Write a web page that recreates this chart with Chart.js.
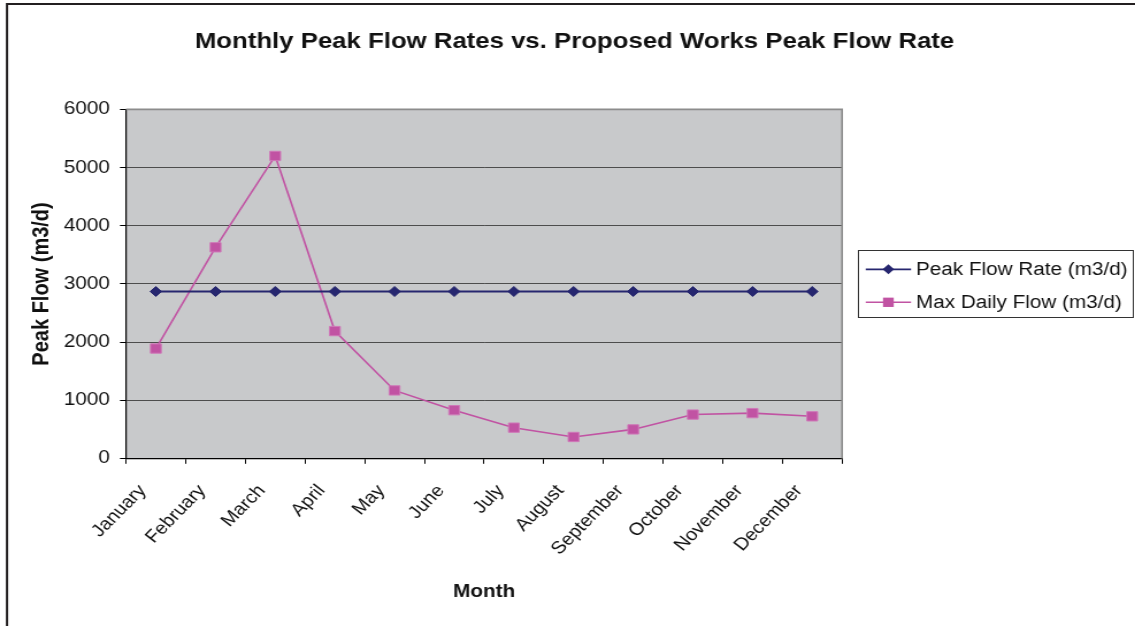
<!DOCTYPE html>
<html>
<head>
<meta charset="utf-8">
<title>Monthly Peak Flow Rates vs. Proposed Works Peak Flow Rate</title>
<script src="https://cdn.jsdelivr.net/npm/chart.js@4.4.1/dist/chart.umd.min.js"></script>
<style>
  html, body { margin: 0; padding: 0; background: #ffffff; overflow: hidden; }
  #wrap { position: relative; width: 1135px; height: 626px; overflow: hidden; background: #ffffff; }
  /* the chart is laid out on a 987px canvas and widened to the page width */
  #stage { position: absolute; left: 0; top: 0; width: 987px; height: 626px;
           transform: scaleX(1.15); transform-origin: 0 0; }
  canvas { display: block; }
</style>
</head>
<body>
<div id="wrap"><div id="stage"><canvas id="chart" width="987" height="626"></canvas></div></div>
<script>
// ---- data ----
const months = ['January', 'February', 'March', 'April', 'May', 'June',
                'July', 'August', 'September', 'October', 'November', 'December'];
const peakFlowRate = [2870, 2870, 2870, 2870, 2870, 2870, 2870, 2870, 2870, 2870, 2870, 2870];
const maxDailyFlow = [1890, 3630, 5200, 2190, 1170, 830, 530, 370, 500, 755, 780, 725];
const yMin = 0;
const yMax = 6000;
const yStep = 1000;

const chartTitle = 'Monthly Peak Flow Rates vs. Proposed Works Peak Flow Rate';
const xTitle = 'Month';
const yTitle = 'Peak Flow (m3/d)';

const FONT = "'Liberation Sans', Arial, Helvetica, sans-serif";
const NAVY = '#26266f';
const PINK = '#c153a3';

// Grey plot background plus the outer frame of the chart object
const backdrop = {
  id: 'backdrop',
  beforeDraw(chart) {
    const { ctx, chartArea: a } = chart;
    ctx.save();
    ctx.fillStyle = '#c8c9cb';
    ctx.fillRect(a.left, a.top, a.right - a.left, a.bottom - a.top);
    ctx.strokeStyle = '#231f20';
    ctx.lineWidth = 2;
    ctx.beginPath();
    ctx.moveTo(6.1, 627);
    ctx.lineTo(6.1, 4);
    ctx.lineTo(chart.width + 2, 4);
    ctx.stroke();
    ctx.restore();
  },
  beforeDatasetsDraw(chart) {
    const { ctx, chartArea: a } = chart;
    ctx.save();
    ctx.strokeStyle = '#8c8c8c';
    ctx.lineWidth = 1.6;
    ctx.beginPath();
    ctx.moveTo(a.left, a.top);
    ctx.lineTo(a.right, a.top);
    ctx.lineTo(a.right, a.bottom);
    ctx.stroke();
    ctx.restore();
  }
};

// Title centred over the whole chart object
const titleText = {
  id: 'titleText',
  afterDraw(chart) {
    const { ctx } = chart;
    ctx.save();
    ctx.fillStyle = '#111111';
    ctx.font = 'bold 22.4px ' + FONT;
    ctx.textAlign = 'center';
    ctx.textBaseline = 'middle';
    ctx.fillText(chartTitle, 499.6, 42);
    ctx.restore();
  }
};

// Boxed legend to the right of the plot, built from the datasets
function drawMarker(ctx, style, x, y, r, color) {
  ctx.fillStyle = color;
  ctx.beginPath();
  if (style === 'rectRot') {
    ctx.moveTo(x, y - r);
    ctx.lineTo(x + r, y);
    ctx.lineTo(x, y + r);
    ctx.lineTo(x - r, y);
  } else {
    const h = r * Math.SQRT1_2;
    ctx.rect(x - h, y - h, 2 * h, 2 * h);
  }
  ctx.closePath();
  ctx.fill();
}

const boxLegend = {
  id: 'boxLegend',
  afterDraw(chart) {
    const { ctx } = chart;
    const box = { x: 746.5, y: 250.5, w: 239, h: 67 };
    const rows = [269.3, 302.3];
    ctx.save();
    ctx.strokeStyle = '#333333';
    ctx.lineWidth = 1;
    ctx.strokeRect(box.x, box.y, box.w, box.h);
    chart.data.datasets.forEach((ds, i) => {
      const y = rows[i];
      ctx.strokeStyle = ds.borderColor;
      ctx.lineWidth = ds.borderWidth;
      ctx.beginPath();
      ctx.moveTo(752.8, y);
      ctx.lineTo(792.2, y);
      ctx.stroke();
      drawMarker(ctx, ds.pointStyle, 772.5, y, ds.pointRadius, ds.pointBackgroundColor);
      ctx.fillStyle = '#111111';
      ctx.font = '18px ' + FONT;
      ctx.textAlign = 'left';
      ctx.textBaseline = 'middle';
      ctx.fillText(ds.label, 796.5, y + 1);
    });
    ctx.restore();
  }
};

new Chart(document.getElementById('chart'), {
  type: 'line',
  data: {
    labels: months,
    datasets: [
      {
        label: 'Peak Flow Rate (m3/d)',
        data: peakFlowRate,
        borderColor: NAVY,
        backgroundColor: NAVY,
        borderWidth: 1.8,
        pointStyle: 'rectRot',
        pointRadius: 5,
        pointBackgroundColor: NAVY,
        pointBorderColor: NAVY,
        pointBorderWidth: 1,
        tension: 0,
        fill: false
      },
      {
        label: 'Max Daily Flow (m3/d)',
        data: maxDailyFlow,
        borderColor: PINK,
        backgroundColor: PINK,
        borderWidth: 1.6,
        pointStyle: 'rect',
        pointRadius: 6.6,
        pointBackgroundColor: PINK,
        pointBorderColor: '#cf78b8',
        pointBorderWidth: 1,
        tension: 0,
        fill: false
      }
    ]
  },
  options: {
    responsive: false,
    animation: false,
    devicePixelRatio: 1,
    layout: { padding: { left: 0, right: 254.8, top: 109.4, bottom: 0 } },
    plugins: {
      legend: { display: false },
      title: { display: false },
      tooltip: { enabled: false }
    },
    scales: {
      x: {
        type: 'category',
        offset: true,
        grid: {
          offset: true,
          drawOnChartArea: false,
          drawTicks: true,
          tickLength: 5.3,
          tickColor: '#000000',
          tickWidth: 1
        },
        border: { display: true, color: '#000000', width: 1.2 },
        ticks: {
          autoSkip: false,
          minRotation: 49,
          maxRotation: 49,
          padding: 17,
          labelOffset: -11.5,
          color: '#111111',
          font: { family: FONT, size: 17.5 }
        },
        title: {
          display: true,
          text: xTitle,
          color: '#111111',
          font: { family: FONT, size: 18, weight: 'bold' },
          padding: { top: 0, bottom: 23.5 }
        },
        afterFit(scale) { scale.height = 167.5; }
      },
      y: {
        min: yMin,
        max: yMax,
        grid: {
          color: (c) => (c.tick && c.tick.value === yMax ? '#8c8c8c' : '#4d4d4d'),
          lineWidth: 1,
          drawTicks: true,
          tickLength: 5.3,
          tickColor: '#000000'
        },
        border: { display: true, color: '#000000', width: 1.2 },
        ticks: {
          stepSize: yStep,
          padding: 8.7,
          color: '#111111',
          font: { family: FONT, size: 18 },
          callback: (v) => String(v)
        },
        title: {
          display: true,
          text: yTitle,
          color: '#111111',
          font: { family: FONT, size: 20, weight: 'bold' },
          padding: { top: 24.5, bottom: 0 }
        },
        afterFit(scale) { scale.width = 109.6; }
      }
    }
  },
  plugins: [backdrop, titleText, boxLegend]
});
</script>
</body>
</html>
